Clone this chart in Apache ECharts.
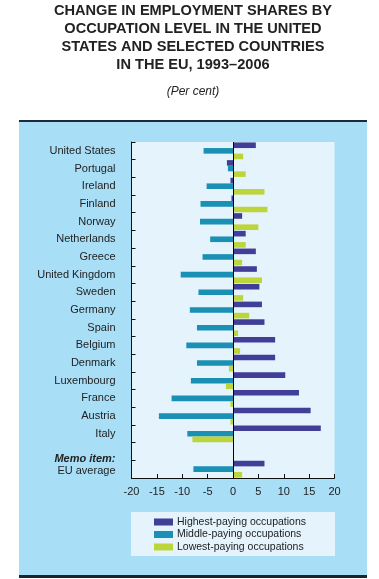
<!DOCTYPE html>
<html>
<head>
<meta charset="utf-8">
<script src="https://cdn.jsdelivr.net/npm/echarts@6/dist/echarts.min.js"></script>
<style>
html,body{margin:0;padding:0;background:#fff;}
#c{width:379px;height:579px;}
</style>
</head>
<body>
<div id="c"></div>
<script>
const categories = ['United States','Portugal','Ireland','Finland','Norway','Netherlands','Greece','United Kingdom','Sweden','Germany','Spain','Belgium','Denmark','Luxembourg','France','Austria','Italy','','EU average'];
const highest = [4.5,-1.2,-0.5,-0.3,1.8,2.5,4.5,4.7,5.2,5.7,6.2,8.3,8.3,10.3,13.0,15.3,17.3,null,6.2];
const middle  = [-5.8,-1.0,-5.2,-6.4,-6.5,-4.5,-6.0,-10.3,-6.8,-8.5,-7.1,-9.2,-7.1,-8.3,-12.1,-14.6,-9.0,null,-7.8];
const lowest  = [2.0,2.5,6.2,6.8,5.0,2.5,1.8,5.7,2.0,3.2,1.0,1.4,-0.8,-1.4,-0.5,-0.5,-8.0,null,1.8];
const seriesNames = ['Highest-paying occupations','Middle-paying occupations','Lowest-paying occupations'];
const colors = ['#403e96','#1a90b5','#bcd53a'];
const xTicks = {min:-20,max:20,interval:5};

const FONT = "'Liberation Sans', Arial, sans-serif";
const chart = echarts.init(document.getElementById('c'), null, {renderer:'canvas'});
const vals = [highest, middle, lowest];
const series = vals.map((d,i)=>({
  name: seriesNames[i],
  type: 'bar',
  data: d,
  barWidth: 5.6,
  barGap: '0%',
  itemStyle: {color: colors[i]},
  emphasis: {disabled: true},
  markLine: i === 0 ? {
    silent: true, symbol: 'none', label:{show:false},
    lineStyle:{color:'#000', width:1, type:'solid'},
    data:[{xAxis:0}]
  } : undefined
}));
chart.setOption({
  animation: false,
  textStyle: {fontFamily: FONT},
  title: [{
    text: 'CHANGE IN EMPLOYMENT SHARES BY\nOCCUPATION LEVEL IN THE UNITED\nSTATES AND SELECTED COUNTRIES\nIN THE EU, 1993\u20132006',
    left: 193, top: 2.5, padding: 0, textAlign: 'center',
    textStyle: {fontFamily: FONT, fontSize: 14.6, fontWeight: 'bold', color: '#222', lineHeight: 17.8}
  },{
    text: '(Per cent)',
    left: 193, top: 85.5, padding: 0, textAlign: 'center',
    textStyle: {fontFamily: FONT, fontSize: 12, fontStyle: 'italic', fontWeight: 'normal', color: '#222'}
  }],
  graphic: [
    {type:'rect', z:-2, shape:{x:19,y:121,width:348,height:454}, style:{fill:'#a9def7'}},
    {type:'rect', z:-1, shape:{x:19,y:120,width:348,height:2}, style:{fill:'#1a2a38'}},
    {type:'rect', z:-1, shape:{x:19,y:575,width:348,height:3}, style:{fill:'#1a2530'}},
    {type:'rect', z:-1, shape:{x:131,y:512,width:204,height:44}, style:{fill:'#e4f3fc'}}
  ],
  legend: {
    orient: 'vertical', left: 154, top: 516.5, padding: 0,
    itemWidth: 19, itemHeight: 7, itemGap: 1.5,
    icon: 'rect',
    textStyle: {fontFamily: FONT, fontSize: 10.5, color: '#222', padding:[0,0,0,-1]},
    data: seriesNames
  },
  grid: {left: 131.5, right: 44.5, top: 142, bottom: 101, show: true, backgroundColor: '#e4f3fc', borderWidth: 0, containLabel: false},
  xAxis: {
    type: 'value', min: xTicks.min, max: xTicks.max, interval: xTicks.interval,
    axisLine: {show: true, lineStyle: {color:'#111', width:1}},
    axisTick: {show: true, inside: true, length: 4, lineStyle:{color:'#111'}},
    splitLine: {show: false},
    axisLabel: {fontFamily: FONT, fontSize: 11, color: '#222', margin: 8}
  },
  yAxis: {
    type: 'category', inverse: true, data: categories,
    axisLine: {show: true, onZero: false, lineStyle: {color:'#111', width:1}},
    axisTick: {show: true, inside: true, length: 4, lineStyle:{color:'#111'}},
    axisLabel: {
      fontFamily: FONT, fontSize: 11, color: '#222', margin: 16,
      formatter: (v) => v === 'EU average' ? '{m|Memo item:}\n{e|EU average}\n{s| }' : v,
      rich: {
        m: {fontFamily: FONT, fontSize: 11, fontWeight: 'bold', fontStyle: 'italic', color:'#222', lineHeight: 12},
        e: {fontFamily: FONT, fontSize: 11, color:'#222', lineHeight: 12},
        s: {fontSize: 1, lineHeight: 8}
      }
    }
  },
  series: series
});
</script>
</body>
</html>
